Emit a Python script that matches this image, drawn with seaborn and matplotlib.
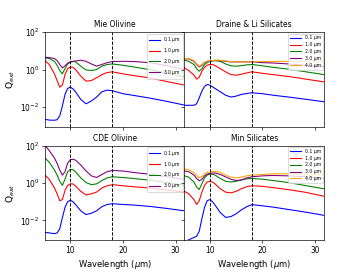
import numpy as np
import pandas as pd
import matplotlib
matplotlib.use('Agg')
import matplotlib.pyplot as plt
import seaborn as sns

# wavelength grid (micron)
wavelength = [5.2, 6, 7, 7.5, 8, 8.5, 9, 9.5, 10, 10.5, 11, 12, 13, 14, 15, 16, 17, 18, 20, 22, 25, 28, 31.7]

# log10(Q_ext)
mie_01 = [-2.66, -2.70, -2.71, -2.68, -2.48, -1.95, -1.33, -1.01, -0.94, -1.03, -1.19, -1.60, -1.83, -1.68, -1.47, -1.19, -1.10, -1.13, -1.29, -1.38, -1.52, -1.68, -1.90]
mie_10 = [0.48, 0.27, -0.23, -0.59, -0.94, -0.83, -0.27, 0.05, 0.14, 0.12, 0.00, -0.35, -0.62, -0.59, -0.44, -0.27, -0.16, -0.12, -0.23, -0.32, -0.44, -0.62, -0.83]
mie_20 = [0.62, 0.59, 0.44, 0.23, -0.05, -0.23, 0.05, 0.30, 0.39, 0.43, 0.41, 0.18, -0.02, -0.05, 0.00, 0.18, 0.27, 0.30, 0.23, 0.14, 0.00, -0.18, -0.39]
mie_30 = [0.66, 0.64, 0.59, 0.48, 0.27, 0.09, 0.20, 0.34, 0.41, 0.44, 0.46, 0.50, 0.44, 0.30, 0.18, 0.27, 0.37, 0.43, 0.44, 0.43, 0.37, 0.23, 0.00]

dl_01 = [-1.91, -1.91, -1.91, -1.83, -1.51, -1.15, -0.90, -0.80, -0.83, -0.92, -1.01, -1.19, -1.37, -1.47, -1.42, -1.33, -1.28, -1.24, -1.29, -1.37, -1.47, -1.58, -1.72]
dl_10 = [0.09, -0.05, -0.30, -0.51, -0.41, -0.09, 0.12, 0.23, 0.27, 0.27, 0.21, 0.05, -0.12, -0.27, -0.30, -0.25, -0.18, -0.12, -0.20, -0.27, -0.37, -0.50, -0.66]
dl_20 = [0.50, 0.44, 0.27, 0.05, -0.09, 0.05, 0.27, 0.37, 0.43, 0.46, 0.48, 0.44, 0.30, 0.20, 0.18, 0.21, 0.25, 0.27, 0.20, 0.12, 0.02, -0.11, -0.27]
dl_30 = [0.57, 0.57, 0.44, 0.27, 0.14, 0.23, 0.37, 0.44, 0.46, 0.48, 0.48, 0.48, 0.44, 0.41, 0.41, 0.41, 0.41, 0.41, 0.37, 0.35, 0.30, 0.23, 0.16]
dl_40 = [0.59, 0.59, 0.48, 0.30, 0.18, 0.27, 0.39, 0.44, 0.46, 0.48, 0.50, 0.50, 0.46, 0.43, 0.41, 0.41, 0.41, 0.41, 0.43, 0.43, 0.44, 0.44, 0.44]

cde_01 = [-2.64, -2.67, -2.71, -2.67, -2.45, -1.85, -1.31, -1.00, -0.93, -1.00, -1.15, -1.49, -1.69, -1.62, -1.49, -1.27, -1.15, -1.11, -1.15, -1.18, -1.25, -1.35, -1.49]
cde_10 = [0.42, 0.20, -0.27, -0.58, -0.95, -0.89, -0.40, -0.13, -0.05, -0.05, -0.16, -0.45, -0.64, -0.58, -0.49, -0.27, -0.15, -0.09, -0.15, -0.20, -0.27, -0.36, -0.49]
cde_20 = [1.33, 1.11, 0.69, 0.42, 0.09, -0.13, 0.20, 0.60, 0.73, 0.71, 0.60, 0.27, 0.02, -0.09, -0.05, 0.13, 0.27, 0.33, 0.29, 0.24, 0.15, 0.04, -0.13]
cde_30 = [2.02, 1.73, 1.33, 1.05, 0.69, 0.42, 0.60, 1.05, 1.24, 1.27, 1.22, 0.96, 0.64, 0.38, 0.29, 0.45, 0.60, 0.67, 0.64, 0.56, 0.47, 0.35, 0.20]

min_01 = [-3.13, -3.04, -2.91, -2.85, -2.58, -1.91, -1.31, -0.95, -0.89, -1.00, -1.18, -1.58, -1.84, -1.80, -1.65, -1.44, -1.27, -1.16, -1.22, -1.29, -1.42, -1.55, -1.73]
min_10 = [-0.45, -0.58, -0.89, -1.15, -0.95, -0.49, -0.13, 0.05, 0.09, 0.05, -0.05, -0.31, -0.49, -0.53, -0.45, -0.31, -0.20, -0.15, -0.18, -0.25, -0.36, -0.49, -0.71]
min_20 = [0.38, 0.31, 0.05, -0.22, -0.35, -0.04, 0.27, 0.42, 0.47, 0.47, 0.42, 0.24, 0.09, 0.05, 0.09, 0.16, 0.22, 0.24, 0.20, 0.13, 0.02, -0.13, -0.31]
min_30 = [0.64, 0.60, 0.42, 0.24, 0.11, 0.20, 0.38, 0.47, 0.51, 0.53, 0.53, 0.45, 0.33, 0.20, 0.13, 0.16, 0.27, 0.33, 0.38, 0.40, 0.38, 0.33, 0.24]
min_40 = [0.75, 0.71, 0.55, 0.40, 0.27, 0.35, 0.47, 0.58, 0.56, 0.62, 0.62, 0.56, 0.42, 0.31, 0.27, 0.31, 0.38, 0.42, 0.45, 0.49, 0.49, 0.47, 0.45]

titles = ['Mie Olivine', 'Draine & Li Silicates', 'CDE Olivine', 'Min Silicates']
sizes_left = ['0.1 $\\mu$m', '1.0 $\\mu$m', '2.0 $\\mu$m', '3.0 $\\mu$m']
sizes_right = ['0.1 μm', '1.0 μm', '2.0 μm', '3.0 μm', '4.0 μm']
colors = ['blue', 'red', 'green', 'purple', 'orange']
features = [10, 18]

panels = [
    (titles[0], sizes_left, [mie_01, mie_10, mie_20, mie_30]),
    (titles[1], sizes_right, [dl_01, dl_10, dl_20, dl_30, dl_40]),
    (titles[2], sizes_left, [cde_01, cde_10, cde_20, cde_30]),
    (titles[3], sizes_right, [min_01, min_10, min_20, min_30, min_40]),
]

fig, axes = plt.subplots(2, 2, figsize=(6, 4.5), dpi=60, sharex=True, sharey=True)
plt.subplots_adjust(left=0.125, right=0.9, top=0.881, bottom=0.111, hspace=0.2, wspace=0)

for ax, (title, labels, series) in zip(axes.flat, panels):
    frames = []
    for lab, vals in zip(labels, series):
        frames.append(pd.DataFrame({'wl': wavelength, 'Q': 10 ** np.array(vals), 'size': lab}))
    df = pd.concat(frames)
    sns.lineplot(data=df, x='wl', y='Q', hue='size', hue_order=labels,
                 palette=colors[:len(labels)], linewidth=1.3, ax=ax)
    for f in features:
        ax.axvline(f, color='k', ls='--', lw=1.1)
    ax.set_yscale('log')
    ax.set_title(title, fontsize=9)
    ax.legend(loc='upper right', fontsize=5.5, handlelength=2.4, labelspacing=0.4,
              borderaxespad=0.3)
    ax.set_xlabel('')
    ax.set_ylabel('')

for ax in axes.flat:
    ax.set_xlim(5.2, 31.7)
    ax.set_ylim(10 ** -3.05, 100)
    ax.set_yticks([1e-2, 1, 1e2])
    ax.yaxis.set_minor_locator(matplotlib.ticker.NullLocator())
    ax.set_xticks([10, 20, 30])
    ax.tick_params(labelsize=9)

for ax in axes[:, 0]:
    ax.set_ylabel('Q$_{ext}$', fontsize=11)
for ax in axes[1, :]:
    ax.set_xlabel('Wavelength ($\\mu$m)', fontsize=10)

plt.savefig('out.png')
plt.close()
